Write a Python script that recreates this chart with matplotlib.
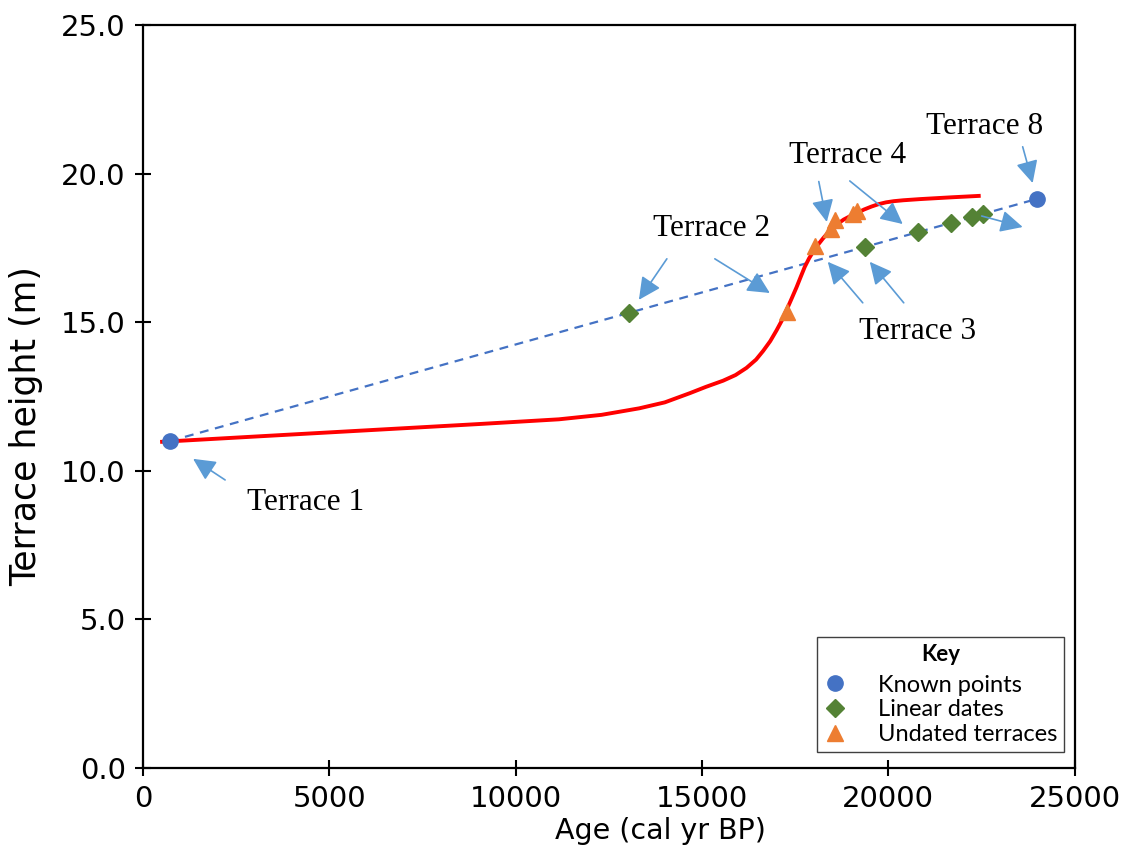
import matplotlib
matplotlib.use('Agg')
import matplotlib.pyplot as plt
from matplotlib.ticker import FormatStrFormatter

# Datos
known_age = [720, 24000]
known_height = [11.0, 19.15]

linear_age = [13050, 19370, 20800, 21670, 22240, 22530]
linear_height = [15.31, 17.53, 18.02, 18.33, 18.53, 18.63]

undated_age = [17275, 18030, 18450, 18560, 19050, 19150]
undated_height = [15.35, 17.55, 18.15, 18.42, 18.65, 18.75]

curve_age = [456, 3000, 6000, 9000, 11159, 12300, 13316, 14000, 14673, 15100,
             15566, 15900, 16193, 16450, 16639, 16830, 16998, 17140, 17266,
             17400, 17535, 17650, 17757, 17870, 17981, 18110, 18249, 18428,
             18600, 18800, 18980, 19169, 19350, 19550, 19740, 19938, 20150,
             20400, 20861, 21700, 22478]
curve_height = [10.97, 11.15, 11.36, 11.57, 11.73, 11.88, 12.10, 12.30, 12.61,
                12.82, 13.03, 13.22, 13.46, 13.74, 14.03, 14.36, 14.72, 15.05,
                15.40, 15.78, 16.17, 16.53, 16.86, 17.14, 17.37, 17.60, 17.82,
                18.08, 18.27, 18.45, 18.57, 18.68, 18.79, 18.89, 18.97, 19.03,
                19.07, 19.10, 19.14, 19.20, 19.25]

# Etiquetas: texto, posición del texto, flechas (cola -> punta)
labels = ['Terrace 1', 'Terrace 2', 'Terrace 4', 'Terrace 8', 'Terrace 3']
label_pos = [(4372, 8.92), (15263, 18.14), (18911, 20.59), (22586, 21.57), (20789, 14.67)]
arrows = [
    ((2200, 9.69), (1341, 10.40)),
    ((14056, 17.13), (13305, 15.75)),
    ((15343, 17.13), (16819, 15.98)),
    ((18133, 19.73), (18348, 18.37)),
    ((18965, 19.75), (20386, 18.30)),
    ((23605, 20.90), (23873, 19.68)),
    ((19313, 15.65), (18374, 17.03)),
    ((20413, 15.65), (19501, 17.03)),
    ((22505, 18.57), (23605, 18.20)),
]

fig = plt.figure(figsize=(11.36, 8.59), dpi=100)
ax = fig.add_axes([0.126, 0.106, 0.82, 0.865])

ax.plot(known_age, known_height, linestyle=(0, (4, 3)), color='#4472C4', lw=1.6, zorder=2)
ax.plot(curve_age, curve_height, color='#FF0000', lw=2.8, zorder=3,
        solid_capstyle='butt', solid_joinstyle='round')

ax.plot(known_age, known_height, 'o', color='#4472C4', ms=11, ls='none',
        label='Known points', zorder=5)
ax.plot(linear_age, linear_height, 'D', color='#548235', ms=9, ls='none',
        label='Linear dates', zorder=5)
ax.plot(undated_age, undated_height, '^', color='#ED7D31', ms=12, ls='none',
        label='Undated terraces', zorder=4)

for (tail, head) in arrows:
    ax.annotate('', xy=head, xytext=tail,
                arrowprops=dict(arrowstyle='-|>,head_length=0.85,head_width=0.42',
                                color='#5B9BD5', lw=1.2, mutation_scale=16,
                                shrinkA=0, shrinkB=0), zorder=6)

for txt, pos in zip(labels, label_pos):
    ax.text(pos[0], pos[1], txt, ha='center', va='center',
            fontsize=22.5, family='Liberation Serif', color='black')

ax.set_xlim(0, 25000)
ax.set_ylim(0, 25)
ax.set_xticks([0, 5000, 10000, 15000, 20000, 25000])
ax.set_yticks([0, 5, 10, 15, 20, 25])
ax.yaxis.set_major_formatter(FormatStrFormatter('%.1f'))
ax.tick_params(direction='inout', length=11, width=1.5, labelsize=21)
ax.tick_params(axis='y', pad=7)
ax.tick_params(axis='x', pad=7)
for s in ax.spines.values():
    s.set_linewidth(1.6)

ax.set_xlabel('Age (cal yr BP)', fontsize=20.5)
ax.set_ylabel('Terrace height (m)', fontsize=25)
ax.xaxis.set_label_coords(0.555, -0.066)
ax.yaxis.set_label_coords(-0.107, 0.46)

leg = ax.legend(loc='lower right', bbox_to_anchor=(0.989, 0.021), title='Key',
                fancybox=False, edgecolor='#404040', framealpha=1,
                prop={'family': 'Lato', 'size': 17}, handletextpad=1.3,
                handlelength=1.0, borderpad=0.3, labelspacing=0.16,
                borderaxespad=0)
leg.get_title().set_fontweight('bold')
leg.get_title().set_fontsize(16)
leg.get_title().set_family('Lato')
leg.get_frame().set_linewidth(1.0)
leg._legend_box.sep = 7

fig.savefig('out.png', dpi=100)
